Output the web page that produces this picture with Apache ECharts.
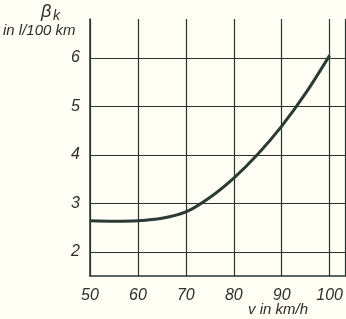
<!DOCTYPE html>
<html><head><meta charset="utf-8">
<script src="https://cdn.jsdelivr.net/npm/echarts@6/dist/echarts.min.js"></script>
<style>html,body{margin:0;padding:0;background:#fffff6;}#c{width:346px;height:319px;}</style>
</head><body><div id="c"></div>
<script>
const speeds = [50, 55, 60, 65, 70, 75, 80, 85, 90, 95, 100];
const consumption = [2.64, 2.63, 2.64, 2.69, 2.82, 3.12, 3.52, 4.01, 4.59, 5.27, 6.05];
const yTicks = [2, 3, 4, 5, 6];
const xTicks = [50, 60, 70, 80, 90, 100];
const yTitle = 'β';
const yTitleSub = 'k';
const yUnit = 'in l/100 km';
const xTitle = 'v in km/h';

const ink = '#24352c';
const textCol = '#2e2e2e';
const font = 'Liberation Sans';

const chart = echarts.init(document.getElementById('c'), null, {renderer: 'canvas'});
chart.setOption({
  backgroundColor: '#fffff6',
  animation: false,
  grid: {left: 90, right: 0, top: 19, bottom: 43},
  xAxis: {
    type: 'value', min: xTicks[0], max: 103.33, interval: 10,
    axisLine: {show: true, lineStyle: {color: ink, width: 1.5}},
    axisTick: {show: false},
    splitLine: {show: true, lineStyle: {color: ink, width: 1.2}},
    axisLabel: {
      show: true, margin: 12, color: textCol, fontSize: 16, fontStyle: 'italic', fontFamily: font,
      showMaxLabel: false,
      formatter: v => xTicks.includes(v) ? String(v) : ''
    }
  },
  yAxis: {
    type: 'value', min: 1.5, max: 6.8, interval: 0.5,
    axisLine: {show: true, lineStyle: {color: ink, width: 1.5}},
    axisTick: {show: false},
    splitLine: {show: false},
    axisLabel: {
      show: true, margin: 10, color: textCol, fontSize: 16, fontStyle: 'italic', fontFamily: font,
      showMaxLabel: false,
      formatter: v => yTicks.includes(v) ? String(v) : ''
    }
  },
  series: [{
    type: 'line',
    data: speeds.map((s, i) => [s, consumption[i]]),
    smooth: 0.3,
    showSymbol: false,
    lineStyle: {color: '#2b3a33', width: 3},
    markLine: {
      silent: true, symbol: 'none', animation: false,
      label: {show: false},
      lineStyle: {color: ink, width: 1.2, type: 'solid'},
      data: yTicks.map(t => ({yAxis: t}))
    }
  }],
  graphic: [
    {type: 'text', left: 41, top: 3, style: {text: yTitle, font: 'italic 18px ' + font, fill: textCol}},
    {type: 'text', left: 53, top: 9, style: {text: yTitleSub, font: 'italic 14px ' + font, fill: textCol}},
    {type: 'text', left: 3, top: 23, style: {text: yUnit, font: 'italic 15px ' + font, fill: textCol}},
    {type: 'text', left: 248, top: 302, style: {text: xTitle, font: 'italic 15px ' + font, fill: textCol}}
  ]
});
</script></body></html>
